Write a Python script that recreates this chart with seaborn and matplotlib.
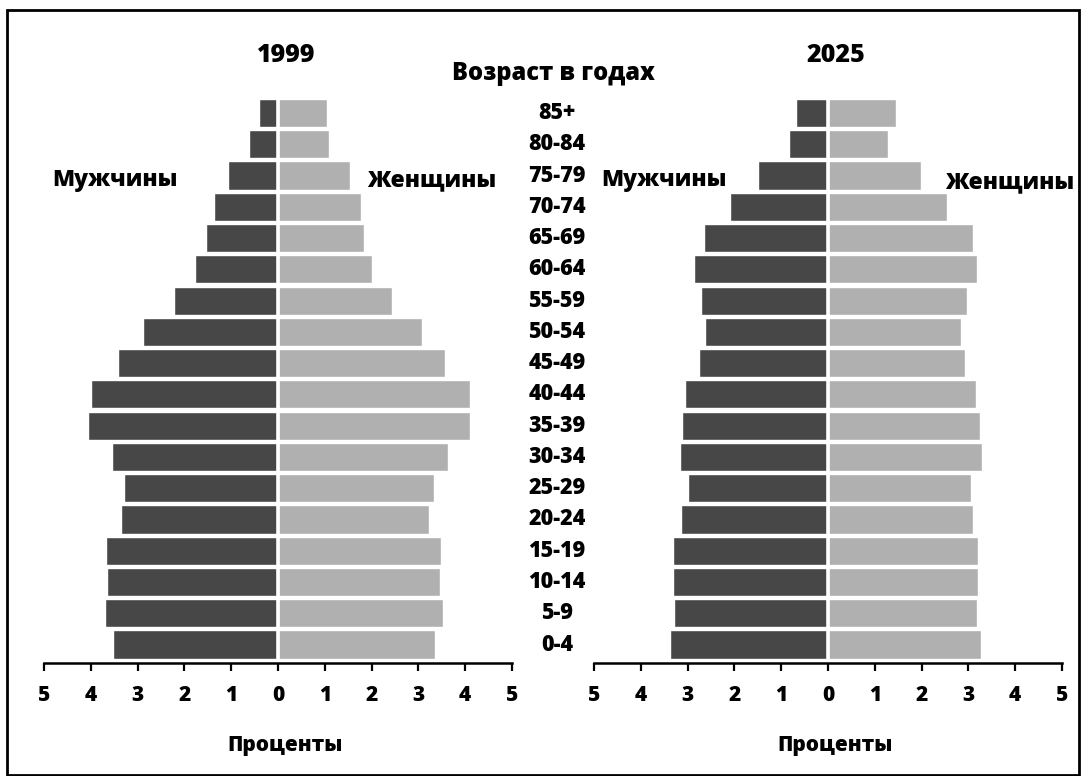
import numpy as np
import pandas as pd
import seaborn as sns
import matplotlib.pyplot as plt
from matplotlib.patches import Rectangle
from matplotlib.transforms import blended_transform_factory

# age groups, top to bottom
ages = ['85+', '80-84', '75-79', '70-74', '65-69', '60-64', '55-59', '50-54', '45-49',
        '40-44', '35-39', '30-34', '25-29', '20-24', '15-19', '10-14', '5-9', '0-4']

# percent of population
male_1999 = [0.41, 0.62, 1.07, 1.37, 1.54, 1.77, 2.22, 2.89, 3.42,
             4.00, 4.06, 3.55, 3.29, 3.36, 3.68, 3.66, 3.70, 3.53]
female_1999 = [1.04, 1.08, 1.53, 1.77, 1.83, 2.00, 2.43, 3.07, 3.56,
               4.10, 4.10, 3.63, 3.33, 3.22, 3.48, 3.46, 3.52, 3.35]
male_2025 = [0.68, 0.83, 1.50, 2.10, 2.65, 2.87, 2.72, 2.63, 2.76,
             3.06, 3.12, 3.16, 2.99, 3.14, 3.31, 3.31, 3.29, 3.38]
female_2025 = [1.45, 1.28, 1.98, 2.54, 3.09, 3.18, 2.97, 2.84, 2.92,
               3.16, 3.24, 3.29, 3.05, 3.09, 3.20, 3.20, 3.18, 3.26]

years = ['1999', '2025']
xticks = [-5, -4, -3, -2, -1, 0, 1, 2, 3, 4, 5]
xticklabels = [str(abs(t)) for t in xticks]

dark = '#474747'
light = '#b0b0b0'
fw = 'extra bold'

sns.set_style('white')
plt.rcParams['font.family'] = ['Open Sans', 'DejaVu Sans']
plt.rcParams['text.color'] = 'black'
plt.rcParams['xtick.color'] = 'black'
plt.rcParams['xtick.labelcolor'] = 'black'

W, H = 1081, 776
fig = plt.figure(figsize=(W / 100, H / 100), dpi=100)


def px(x, y):
    return x / W, 1 - y / H


# axes placement in pixels
ax_top, ax_bot = 94.2, 663
panels = [(44, 512), (594, 1062)]

data = [(male_1999, female_1999), (male_2025, female_2025)]

for (x0, x1), (m, f), yr in zip(panels, data, years):
    ax = fig.add_axes([x0 / W, 1 - ax_bot / H, (x1 - x0) / W, (ax_bot - ax_top) / H])
    sns.barplot(x=-np.array(m), y=ages, order=ages, orient='h', color=dark,
                width=0.9, saturation=1, ax=ax)
    sns.barplot(x=np.array(f), y=ages, order=ages, orient='h', color=light,
                width=0.9, saturation=1, ax=ax)
    ax.axvline(0, color='white', lw=2.6)
    ax.set_xlim(-5, 5)
    ax.set_ylim(17.59, -0.6)
    ax.set_yticks([])
    ax.set_ylabel('')
    ax.set_xlabel('')
    ax.set_xticks(xticks)
    ax.set_xticklabels(xticklabels, fontsize=15, fontweight=fw, color='black')
    ax.tick_params(axis='x', direction='out', length=6, width=1.6, pad=10,
                   color='black', bottom=True)
    for s in ['left', 'right', 'top']:
        ax.spines[s].set_visible(False)
    ax.spines['bottom'].set_linewidth(1.8)
    ax.spines['bottom'].set_color('black')

    cx = (x0 + x1) / 2
    fig.text(*px(cx + 8, 55), yr, ha='center', va='center', fontsize=18, fontweight=fw)
    fig.text(*px(cx + 7, 745), 'Проценты', ha='center', va='center', fontsize=15,
             fontweight=fw)

# age labels in the middle
ax0 = fig.axes[0]
trans = blended_transform_factory(fig.transFigure, ax0.transData)
for i, a in enumerate(ages):
    ax0.text(557 / W, i, a, transform=trans, ha='center', va='center',
             fontsize=15.5, fontweight=fw, clip_on=False)

fig.text(*px(553, 74), 'Возраст в годах', ha='center', va='center', fontsize=17,
         fontweight=fw)

fig.text(*px(115, 180), 'Мужчины', ha='center', va='center', fontsize=16.5, fontweight=fw)
fig.text(*px(432, 180), 'Женщины', ha='center', va='center', fontsize=16.5, fontweight=fw)
fig.text(*px(664, 180), 'Мужчины', ha='center', va='center', fontsize=16.5, fontweight=fw)
fig.text(*px(1010, 182), 'Женщины', ha='center', va='center', fontsize=16.5, fontweight=fw)

# frame around the figure
fig.add_artist(Rectangle(px(7, 775), (1079 - 7) / W, (775 - 10) / H,
                         transform=fig.transFigure, fill=False, lw=2, ec='black'))

fig.savefig('out.png', dpi=100)
